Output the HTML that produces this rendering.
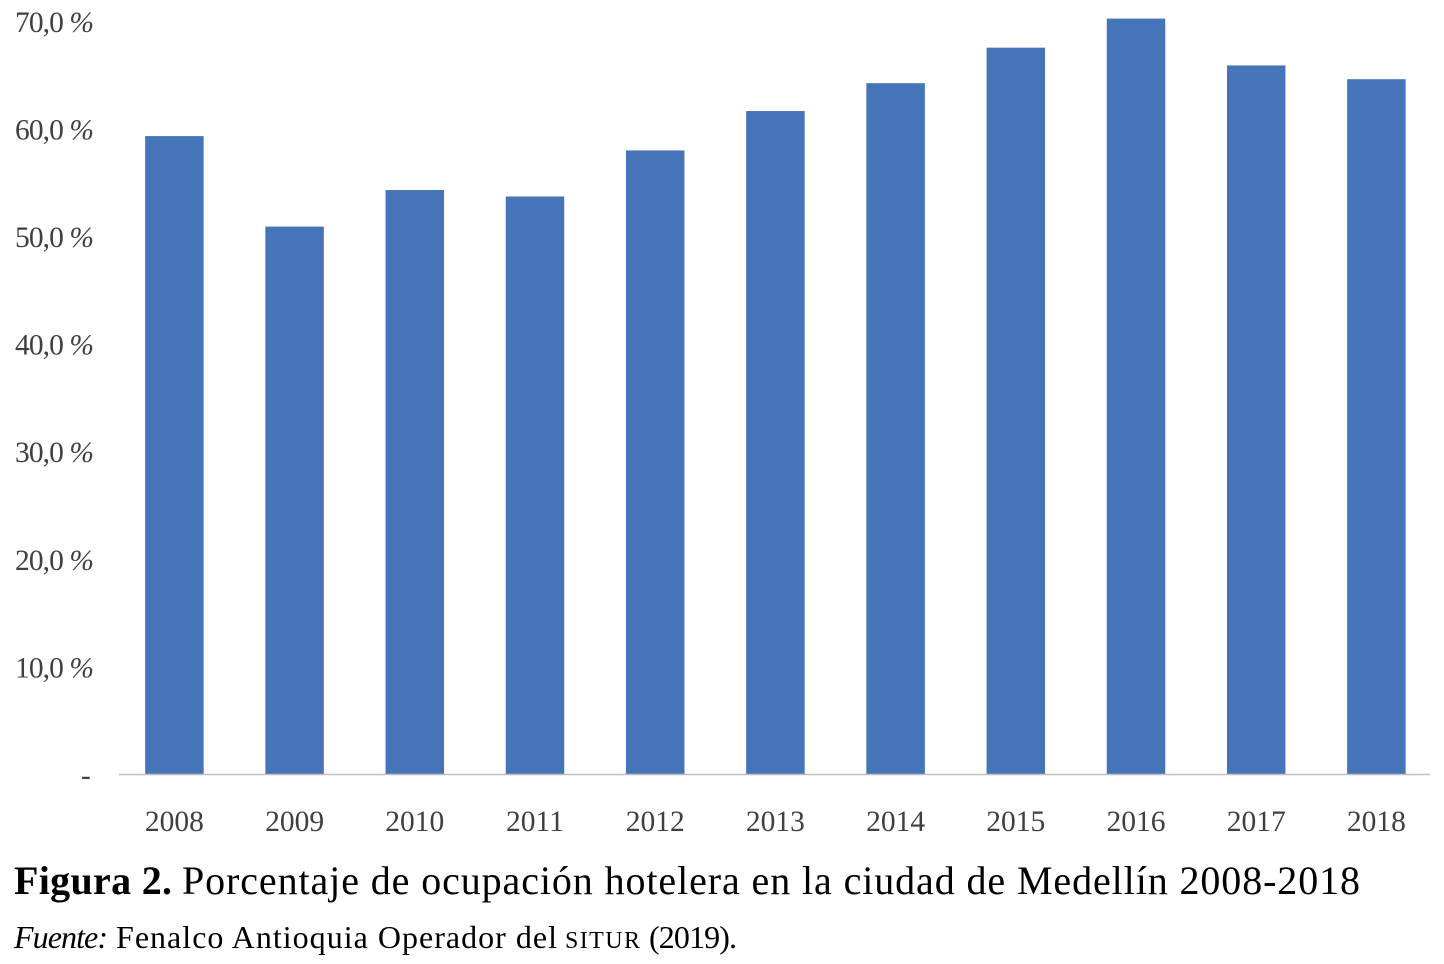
<!DOCTYPE html>
<html lang="es">
<head>
<meta charset="utf-8">
<title>Figura 2</title>
<style>
html,body{margin:0;padding:0;background:#fff;}
svg{display:block;}
text{font-family:"Liberation Serif",serif;}
.tick{font-size:29.5px;fill:#404040;}
.cap{font-size:40px;fill:#000;}
.src{font-size:32px;fill:#000;}
.pct{font-style:italic;}
</style>
</head>
<body>
<svg id="chart" width="1444" height="964" viewBox="0 0 1444 964" xmlns="http://www.w3.org/2000/svg">
  <g id="bars"></g>
  <line x1="119" x2="1430" y1="774.5" y2="774.5" stroke="#bfbfbf" stroke-width="1.5"></line>
  <g id="yticks"></g>
  <g id="xticks"></g>
  <text class="cap" x="14" y="894" font-weight="bold" textLength="158" lengthAdjust="spacing">Figura 2.</text>
  <text class="cap" x="182" y="894" textLength="1178" lengthAdjust="spacing">Porcentaje de ocupación hotelera en la ciudad de Medellín 2008-2018</text>
  <text class="src" x="14" y="948" font-style="italic" textLength="94" lengthAdjust="spacing">Fuente:</text>
  <text class="src" x="116" y="948" textLength="441" lengthAdjust="spacing">Fenalco Antioquia Operador del</text>
  <text class="src" x="565" y="948" style="font-size:24px" textLength="75" lengthAdjust="spacing">SITUR</text>
  <text class="src" x="649" y="948" textLength="88" lengthAdjust="spacing">(2019).</text>
</svg>
<script>
const categories = ['2008','2009','2010','2011','2012','2013','2014','2015','2016','2017','2018'];
const occupancy = [59.33,50.92,54.32,53.72,58.0,61.66,64.25,67.55,70.25,65.9,64.62];
const tickValues = [0,10,20,30,40,50,60,70];
const tickNumbers = ['-','10,0','20,0','30,0','40,0','50,0','60,0','70,0'];
const tickUnits = ['','%','%','%','%','%','%','%'];

const NS = 'http://www.w3.org/2000/svg';
const plotLeft = 114.3, bandWidth = 120.2, barWidth = 58.5;
const baseY = 774.5, pxPerUnit = 10.76;
function xCenter(i){ return plotLeft + bandWidth * (i + 0.5); }
function yScale(v){ return baseY - v * pxPerUnit; }

const barsG = document.getElementById('bars');
const xG = document.getElementById('xticks');
const yG = document.getElementById('yticks');

categories.forEach(function(cat, i){
  const r = document.createElementNS(NS, 'rect');
  r.setAttribute('x', xCenter(i) - barWidth / 2);
  r.setAttribute('y', yScale(occupancy[i]));
  r.setAttribute('width', barWidth);
  r.setAttribute('height', baseY - yScale(occupancy[i]));
  r.setAttribute('fill', '#4674b8');
  
  
  barsG.appendChild(r);

  const t = document.createElementNS(NS, 'text');
  t.setAttribute('class', 'tick');
  t.setAttribute('x', xCenter(i));
  t.setAttribute('y', 831);
  t.setAttribute('text-anchor', 'middle');
  
  
  t.textContent = cat;
  xG.appendChild(t);
});

tickValues.forEach(function(v, i){
  const t = document.createElementNS(NS, 'text');
  t.setAttribute('class', 'tick');
  t.setAttribute('y', yScale(v) + 10.5);
  
  
  if (tickUnits[i]) {
    t.setAttribute('x', 15);
    t.setAttribute('textLength', 79);
    t.setAttribute('lengthAdjust', 'spacing');
    t.textContent = tickNumbers[i] + ' ';
    const u = document.createElementNS(NS, 'tspan');
    u.setAttribute('class', 'pct');
    
    
    u.textContent = tickUnits[i];
    t.appendChild(u);
  } else {
    t.setAttribute('x', 81);
    t.textContent = tickNumbers[i];
  }
  yG.appendChild(t);
});
</script>
</body>
</html>
